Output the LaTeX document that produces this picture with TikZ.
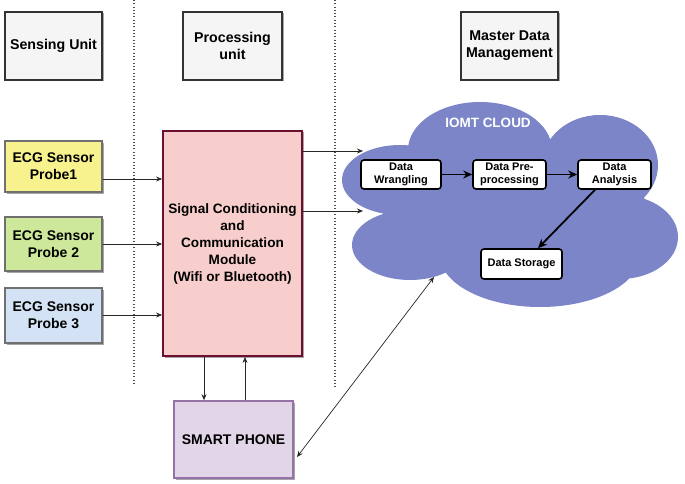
\documentclass[tikz,border=0pt]{standalone}
\usepackage{fontspec}
\setmainfont{Liberation Sans}
\usetikzlibrary{arrows.meta,shadows}
\definecolor{hdrfill}{HTML}{F5F5F5}
\definecolor{hdrline}{HTML}{333333}
\definecolor{yel}{HTML}{F7F28E}
\definecolor{grn}{HTML}{CDE89A}
\definecolor{blu}{HTML}{D3E3F5}
\definecolor{ecgline}{HTML}{707070}
\definecolor{sigfill}{HTML}{F8CECC}
\definecolor{sigline}{HTML}{6D1030}
\definecolor{phfill}{HTML}{E1D5E7}
\definecolor{phline}{HTML}{9673A6}
\definecolor{cloudc}{HTML}{7B85C8}
\tikzset{
  shad/.style={drop shadow={shadow xshift=1.5pt,shadow yshift=-1.5pt,opacity=0.35,fill=black}},
  hdr/.style={draw=hdrline,fill=hdrfill,line width=1.3pt,shad,align=center,font=\fontsize{14.2}{17}\selectfont\bfseries,inner sep=0pt},
  ecg/.style={draw=ecgline,line width=1.3pt,shad,align=center,font=\fontsize{14}{17}\selectfont\bfseries,inner sep=0pt,minimum width=97pt},
  dbox/.style={draw=black,fill=white,line width=1.6pt,rounded corners=3pt,align=center,font=\fontsize{11}{13}\selectfont\bfseries,inner sep=0pt},
  thin/.style={draw=black!85,line width=0.7pt,-{Stealth[length=6pt,width=5pt]}},
  thick/.style={draw=black,line width=1.8pt,-{Stealth[length=9pt,width=8pt]}},
  sep/.style={draw=black!70,line width=1.1pt,dash pattern=on 0.9pt off 2.4pt}
}
\begin{document}
\begin{tikzpicture}[x=1pt,y=-1pt]
\useasboundingbox (0,0) rectangle (685,484);
\fill[white] (0,0) rectangle (685,484);
% separators
\coordinate (s1a) at (134,0); \coordinate (s1b) at (134,385);
\coordinate (s2a) at (335,0); \coordinate (s2b) at (335,388);
\draw[sep] (s1a) -- (s1b);
\draw[sep] (s2a) -- (s2b);
% cloud
\fill[cloudc]
  (480,150) ellipse [x radius=72, y radius=48]
  (600,165) ellipse [x radius=58, y radius=50]
  (620,237) ellipse [x radius=58, y radius=42]
  (540,255) ellipse [x radius=100, y radius=52]
  (410,245) ellipse [x radius=58, y radius=35]
  (400,180) ellipse [x radius=58, y radius=35]
  (515,205) ellipse [x radius=130, y radius=65];
\node[text=white,font=\fontsize{13.5}{16}\selectfont\bfseries] (cl) at (488,123) {IOMT CLOUD};
% headers
\node[hdr,minimum width=97pt,minimum height=68pt] (su) at (53.5,46) {Sensing Unit};
\node[hdr,minimum width=99pt,minimum height=68pt] (pu) at (232.5,46) {Processing\\unit};
\node[hdr,minimum width=97pt,minimum height=68pt] (md) at (509.5,46) {Master Data\\Management};
% sensors
\node[ecg,fill=yel,minimum height=51pt] (e1) at (53.5,166.5) {ECG Sensor\\Probe1};
\node[ecg,fill=grn,minimum height=54pt] (e2) at (53.5,244) {ECG Sensor\\Probe 2};
\node[ecg,fill=blu,minimum height=55pt] (e3) at (53.5,315.5) {ECG Sensor\\Probe 3};
% signal module
\node[draw=sigline,fill=sigfill,line width=1.8pt,shad,minimum width=139pt,minimum height=225pt,align=center,inner sep=0pt,font=\fontsize{13.6}{17}\selectfont\bfseries] (sig) at (232.5,243.5) {Signal Conditioning\\and\\Communication\\Module\\(Wifi or Bluetooth)};
% phone
\node[draw=phline,fill=phfill,line width=1.6pt,shad,minimum width=119pt,minimum height=77pt,font=\fontsize{14}{17}\selectfont\bfseries,inner sep=0pt] (ph) at (233.5,439.5) {SMART PHONE};
% cloud boxes
\node[dbox,minimum width=80pt,minimum height=29pt] (dw) at (401,174.5) {Data\\Wrangling};
\node[dbox,minimum width=73pt,minimum height=29pt] (dp) at (509.5,174.5) {Data Pre-\\processing};
\node[dbox,minimum width=73pt,minimum height=29pt] (da) at (614.5,174.5) {Data\\Analysis};
\node[dbox,minimum width=81pt,minimum height=30pt] (ds) at (521.5,264) {Data Storage};
% sensor arrows
\draw[thin] (e1.east |- 0,179) -- (sig.west |- 0,179);
\draw[thin] (e2.east |- 0,244) -- (sig.west |- 0,244);
\draw[thin] (e3.east |- 0,315) -- (sig.west |- 0,315);
% signal to cloud
\coordinate (c1) at (363,151);
\coordinate (c2) at (363,211);
\draw[thin] (sig.east |- c1) -- (c1);
\draw[thin] (sig.east |- c2) -- (c2);
% signal <-> phone
\draw[thin] (sig.south -| 204,0) -- (ph.north -| 204,0);
\draw[thin] (ph.north -| 245,0) -- (sig.south -| 245,0);
% phone <-> cloud
\coordinate (pc1) at (297,457);
\coordinate (pc2) at (434,277);
\draw[thin,{Stealth[length=6pt,width=5pt]}-{Stealth[length=6pt,width=5pt]}] (pc1) -- (pc2);
% cloud flow
\draw[thick] (dw) -- (dp);
\draw[thick] (dp) -- (da);
\draw[thick] (da.south -| 595,0) -- (ds.north -| 538,0);
\end{tikzpicture}
\end{document}
